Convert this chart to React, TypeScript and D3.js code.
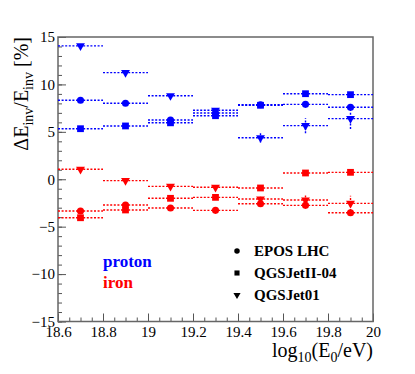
import { useEffect, useRef } from 'react';
import * as d3 from 'd3';

// bin centres in log10(E0/eV), each bin is 0.2 wide
const binCenters = [18.7, 18.9, 19.1, 19.3, 19.5, 19.7, 19.9];
const binHalf = 0.1;

// proton
const protonEpos = [8.33, 8.01, 6.25, 6.99, 7.85, 7.9, 7.59];
const protonQgsII = [5.33, 5.62, 5.95, 6.7, 7.8, 9.02, 8.92];
const protonQgs01 = [14.06, 11.24, 8.81, 7.28, 4.38, 5.65, 6.39];
const protonQgs01Err = [0, 0, 0, 0.2, 0.5, 0.8, 1.1];

// iron
const ironEpos = [-3.35, -2.72, -3.03, -3.28, -2.58, -2.75, -3.53];
const ironQgsII = [-4.06, -3.24, -2.01, -1.91, -0.92, 0.66, 0.73];
const ironQgs01 = [1.05, -0.15, -0.75, -0.85, -2.08, -2.19, -2.54];
const ironQgs01Err = [0, 0, 0, 0.1, 0.35, 0.5, 0.8];

const legendItems = [
  { label: 'EPOS LHC', marker: 'circle' },
  { label: 'QGSJetII-04', marker: 'square' },
  { label: 'QGSJet01', marker: 'triangle' },
];

const xTicks = [18.6, 18.8, 19, 19.2, 19.4, 19.6, 19.8, 20];
const yTicks = [-15, -10, -5, 0, 5, 10, 15];

const FONT = '"Liberation Serif", "DejaVu Serif", serif';
const BLUE = '#0000ff';
const RED = '#ff0000';

function symbolPath(kind: string, size: number) {
  if (kind === 'circle') return d3.symbol(d3.symbolCircle, size)()!;
  if (kind === 'square') return d3.symbol(d3.symbolSquare, size)()!;
  return d3.symbol(d3.symbolTriangle, size)()!;
}

export default function App() {
  const svgRef = useRef<SVGSVGElement>(null);

  useEffect(() => {
    if (!svgRef.current) return;
    const svg = d3.select(svgRef.current);
    svg.selectAll('*').remove();

    const x = d3.scaleLinear().domain([18.6, 20]).range([58, 373]);
    const y = d3.scaleLinear().domain([-15, 15]).range([321.5, 37]);
    const fmt = d3.format('~g');

    // axes: major + minor ticks pointing inward
    const xMinor = d3.range(0, 29).map(i => 18.6 + i * 0.05);
    const yMinor = d3.range(-15, 16);

    svg.append('g').attr('transform', 'translate(0,321.5)')
      .call(d3.axisBottom(x).tickValues(xMinor).tickSizeInner(-4).tickSizeOuter(0).tickFormat(() => ''))
      .call(g => g.select('.domain').remove())
      .selectAll('line').attr('stroke', '#555');
    svg.append('g').attr('transform', 'translate(0,321.5)')
      .call(d3.axisBottom(x).tickValues(xTicks).tickSizeInner(-8).tickSizeOuter(0).tickPadding(5).tickFormat(d => fmt(+d)))
      .call(g => g.select('.domain').remove())
      .call(g => g.selectAll('line').attr('stroke', '#555'))
      .selectAll('text').style('font-family', FONT).style('font-size', '15px').attr('fill', '#000');

    svg.append('g').attr('transform', 'translate(58,0)')
      .call(d3.axisLeft(y).tickValues(yMinor).tickSizeInner(-4).tickSizeOuter(0).tickFormat(() => ''))
      .call(g => g.select('.domain').remove())
      .selectAll('line').attr('stroke', '#555');
    svg.append('g').attr('transform', 'translate(58,0)')
      .call(d3.axisLeft(y).tickValues(yTicks).tickSizeInner(-8).tickSizeOuter(0).tickPadding(3).tickFormat(d => fmt(+d)))
      .call(g => g.select('.domain').remove())
      .call(g => g.selectAll('line').attr('stroke', '#555'))
      .selectAll('text').style('font-family', FONT).style('font-size', '15px').attr('fill', '#000');

    // frame
    svg.append('rect')
      .attr('x', x(18.6)).attr('y', y(15))
      .attr('width', x(20) - x(18.6)).attr('height', y(-15) - y(15))
      .attr('fill', 'none').attr('stroke', '#666').attr('stroke-width', 1.5);

    const series = [
      { vals: protonQgs01, err: protonQgs01Err, color: BLUE, marker: 'triangle' },
      { vals: protonEpos, err: null, color: BLUE, marker: 'circle' },
      { vals: protonQgsII, err: null, color: BLUE, marker: 'square' },
      { vals: ironQgs01, err: ironQgs01Err, color: RED, marker: 'triangle' },
      { vals: ironEpos, err: null, color: RED, marker: 'circle' },
      { vals: ironQgsII, err: null, color: RED, marker: 'square' },
    ];

    const sizes: Record<string, number> = { circle: 40, square: 46, triangle: 34 };

    series.forEach(s => {
      const g = svg.append('g');
      const pts = binCenters.map((c, i) => ({ c, v: s.vals[i], e: s.err ? s.err[i] : 0 }));
      g.selectAll('.xerr').data(pts).join('line')
        .attr('x1', d => x(d.c - binHalf)).attr('x2', d => x(d.c + binHalf))
        .attr('y1', d => y(d.v)).attr('y2', d => y(d.v))
        .attr('stroke', s.color).attr('stroke-width', 1.4).attr('stroke-dasharray', '2,1.6');
      g.selectAll('.yerr').data(pts.filter(d => d.e > 0)).join('line')
        .attr('x1', d => x(d.c)).attr('x2', d => x(d.c))
        .attr('y1', d => y(d.v - d.e)).attr('y2', d => y(d.v + d.e))
        .attr('stroke', s.color).attr('stroke-width', 1.4).attr('stroke-dasharray', '2,1.6');
      g.selectAll('path').data(pts).join('path')
        .attr('d', symbolPath(s.marker, sizes[s.marker]))
        .attr('transform', d => `translate(${x(d.c)},${y(d.v)})${s.marker === 'triangle' ? ' rotate(180)' : ''}`)
        .attr('fill', s.color);
    });

    // legend
    const lg = svg.append('g');
    legendItems.forEach((it, i) => {
      const cy = 251 + i * 22;
      lg.append('path')
        .attr('d', symbolPath(it.marker, it.marker === 'circle' ? 24 : it.marker === 'square' ? 26 : 22))
        .attr('transform', `translate(237,${cy})${it.marker === 'triangle' ? ' rotate(180)' : ''}`)
        .attr('fill', '#000');
      lg.append('text').attr('x', 254).attr('y', cy + 5)
        .style('font-family', FONT).style('font-size', '15px').style('font-weight', 'bold')
        .text(it.label);
    });

    svg.append('text').attr('x', 103).attr('y', 267)
      .style('font-family', FONT).style('font-size', '17px').style('font-weight', 'bold')
      .attr('fill', BLUE).text('proton');
    svg.append('text').attr('x', 103).attr('y', 288)
      .style('font-family', FONT).style('font-size', '17px').style('font-weight', 'bold')
      .attr('fill', RED).text('iron');

    // x title
    const xt = svg.append('text').attr('x', 373).attr('y', 357).attr('text-anchor', 'end')
      .style('font-family', FONT).style('font-size', '20px');
    xt.append('tspan').text('log');
    xt.append('tspan').attr('dy', 5).style('font-size', '14px').text('10');
    xt.append('tspan').attr('dy', -5).text('(E');
    xt.append('tspan').attr('dy', 5).style('font-size', '14px').text('0');
    xt.append('tspan').attr('dy', -5).text('/eV)');

    // y title
    const yt = svg.append('text').attr('transform', 'translate(28,37) rotate(-90)').attr('text-anchor', 'end')
      .style('font-family', FONT).style('font-size', '20px');
    yt.append('tspan').text('ΔE');
    yt.append('tspan').attr('dy', 5).style('font-size', '14px').text('inv');
    yt.append('tspan').attr('dy', -5).text('/E');
    yt.append('tspan').attr('dy', 5).style('font-size', '14px').text('inv');
    yt.append('tspan').attr('dy', -5).text(' [%]');
  }, []);

  return (
    <svg ref={svgRef} width={415} height={374}
      style={{ position: 'absolute', left: 0, top: 0, background: '#fff' }} />
  );
}
